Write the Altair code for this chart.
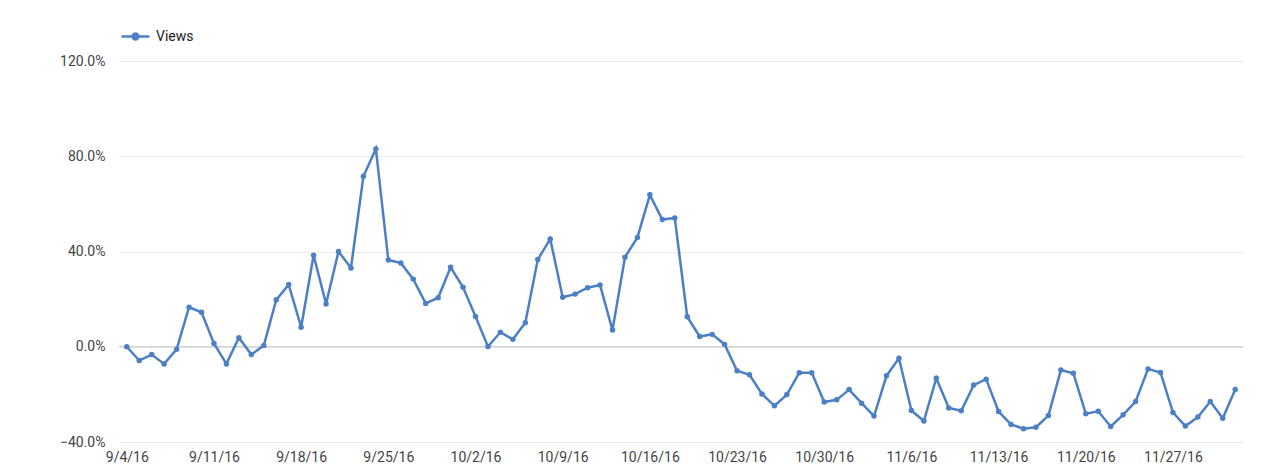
import altair as alt
import pandas as pd

# Daily change in views (%), 9/4/16 .. 12/2/16
views_pct = [
    0.0, -5.8, -3.3, -7.2, -1.1, 16.6, 14.5, 1.4, -7.2, 3.8,
    -3.3, 0.5, 19.7, 26.1, 8.2, 38.4, 18.0, 40.0, 33.1, 71.6,
    83.1, 36.4, 35.2, 28.4, 18.2, 20.6, 33.4, 25.0, 12.7, 0.1,
    6.1, 3.1, 10.1, 36.6, 45.3, 20.8, 22.1, 24.8, 25.9, 7.0,
    37.6, 45.9, 63.8, 53.4, 54.1, 12.6, 4.3, 5.2, 1.0, -10.1,
    -11.8, -19.8, -24.8, -20.1, -10.9, -10.9, -23.2, -22.3, -18.0, -23.7,
    -29.1, -12.2, -4.8, -26.8, -31.2, -13.2, -25.7, -26.9, -16.1, -13.6,
    -27.2, -32.6, -34.4, -33.8, -28.9, -9.8, -11.1, -28.1, -27.1, -33.5,
    -28.6, -23.0, -9.3, -10.8, -27.6, -33.3, -29.5, -23.0, -30.0, -18.0,
]
dates = pd.date_range("2016-09-04", periods=len(views_pct), freq="D").strftime("%Y-%m-%d").tolist()
series_name = ["Views"] * len(views_pct)
tick_dates = ["2016-09-04", "2016-09-11", "2016-09-18", "2016-09-25", "2016-10-02",
              "2016-10-09", "2016-10-16", "2016-10-23", "2016-10-30", "2016-11-06",
              "2016-11-13", "2016-11-20", "2016-11-27"]
y_ticks = [-0.4, 0.0, 0.4, 0.8, 1.2]

df = pd.DataFrame({"date": dates, "value": [v / 100 for v in views_pct], "series": series_name})

BLUE = "#4c80c4"
FONT = "Roboto"


def dt(s, h=0):
    y, m, d = map(int, s.split("-"))
    return alt.DateTime(year=y, month=m, date=d, hours=h, utc=True)


x_enc = alt.X(
    "date:T",
    scale=alt.Scale(type="utc", domain=[dt("2016-09-03", 9), dt("2016-12-02", 15)]),
    axis=alt.Axis(
        title=None, values=[dt(s) for s in tick_dates], format="%-m/%-d/%y",
        grid=False, domain=False, ticks=False, tickSize=0, labelPadding=8,
        labelFont=FONT, labelFontSize=14, labelColor="#444444", labelOverlap=False,
    ),
)
y_enc = alt.Y(
    "value:Q",
    scale=alt.Scale(domain=[-0.4, 1.2], nice=False, zero=False),
    axis=alt.Axis(
        title=None, values=y_ticks, format=".1%", grid=True, gridColor="#ebebeb",
        gridWidth=1, domain=False, ticks=False, tickSize=0, labelPadding=14,
        labelFont=FONT, labelFontSize=14, labelColor="#444444",
    ),
)

legend_symbol = "M-1,0H1M0.21,0A0.21,0.21 0 1,1 -0.21,0A0.21,0.21 0 1,1 0.21,0Z"

base = alt.Chart(df)

zero_rule = alt.Chart(pd.DataFrame({"z": [0.0]})).mark_rule(color="#c4c4c4", strokeWidth=1).encode(
    y=alt.Y("z:Q", scale=alt.Scale(domain=[-0.4, 1.2])),
)

line = base.mark_line(strokeWidth=2.5, point=alt.OverlayMarkDef(filled=True, size=30, opacity=1)).encode(
    x=x_enc,
    y=y_enc,
    color=alt.Color(
        "series:N",
        scale=alt.Scale(range=[BLUE]),
        legend=alt.Legend(
            title=None, orient="none", legendX=1, legendY=-40, padding=0,
            symbolType=legend_symbol, symbolSize=784, symbolStrokeWidth=2.5,
            symbolFillColor=BLUE, symbolStrokeColor=BLUE, symbolOpacity=1,
            labelFont=FONT, labelFontSize=14, labelColor="#222222", labelOffset=5,
        ),
    ),
)

top_line = alt.Chart(pd.DataFrame({"a": [0]})).mark_rule(color="#e2e2e2", strokeWidth=1.5).encode(
    x=alt.value(-111), x2=alt.value(1153), y=alt.value(-57)
)

chart = alt.layer(zero_rule, line, top_line).properties(
    width=1124, height=381,
    autosize=alt.AutoSizeParams(type="none"),
    padding={"left": 111, "top": 53, "right": 29, "bottom": 22},
).configure(background="white").configure_view(stroke=None)

chart.save("out.html", embed_options={"renderer": "svg", "actions": False})
